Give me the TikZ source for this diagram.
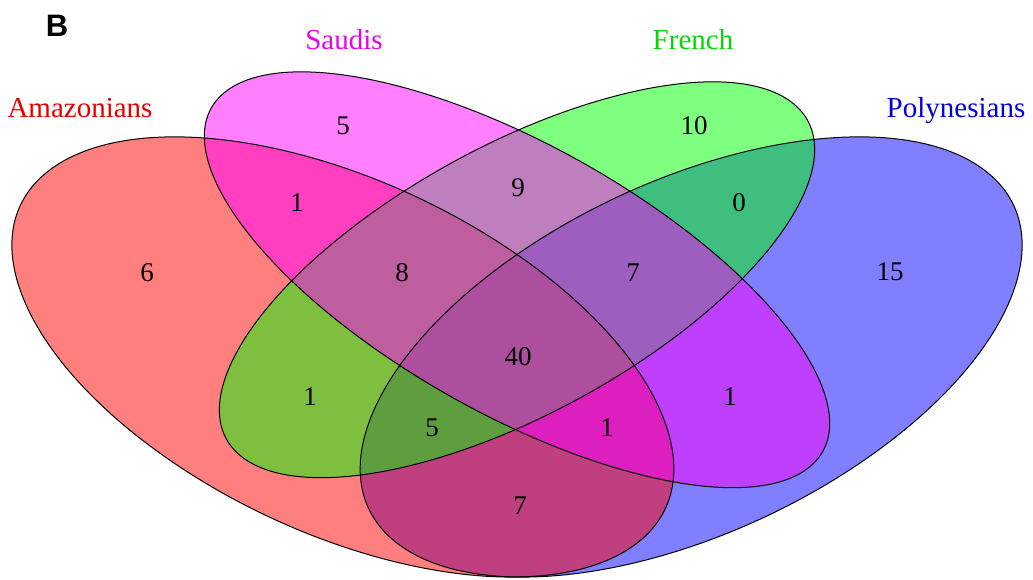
\documentclass[tikz,border=0pt]{standalone}
\usepackage{fontspec}
\setmainfont{Liberation Serif}
\newfontfamily\panelfont{Liberation Sans}
\usepackage{tikz}

\definecolor{amazcol}{RGB}{255,0,0}
\definecolor{saudcol}{RGB}{255,0,255}
\definecolor{frencol}{RGB}{0,255,0}
\definecolor{polycol}{RGB}{0,0,255}

\begin{document}
\begin{tikzpicture}[x=1pt,y=1pt]
    \tikzstyle{every node}=[inner sep=0pt,font=\fontsize{27}{27}\selectfont];
    \tikzstyle{setfill}=[fill opacity=0.5];
    \tikzstyle{setline}=[draw=black,line width=1pt];
    \tikzstyle{setname}=[anchor=base,font=\fontsize{29}{29}\selectfont];

    \useasboundingbox (0,0) rectangle (1033,579);

    % the four sets, filled first, outlined after
    \begin{scope}[shift={(-63.5,-140.8)},xscale=11.61,yscale=7.72]
        \fill[setfill,polycol] [rotate around={45:(65,47)}] (65,47) ellipse (35 and 20);
        \fill[setfill,amazcol] [rotate around={135:(35,47)}] (35,47) ellipse (35 and 20);
        \fill[setfill,frencol] [rotate around={45:(50,57)}] (50,57) ellipse (33 and 15);
        \fill[setfill,saudcol] [rotate around={135:(50,57)}] (50,57) ellipse (35 and 15);

        \draw[setline] [rotate around={45:(65,47)}] (65,47) ellipse (35 and 20);
        \draw[setline] [rotate around={135:(35,47)}] (35,47) ellipse (35 and 20);
        \draw[setline] [rotate around={45:(50,57)}] (50,57) ellipse (33 and 15);
        \draw[setline] [rotate around={135:(50,57)}] (50,57) ellipse (35 and 15);
    \end{scope}

    \node[anchor=base,font=\panelfont\bfseries\fontsize{31}{31}\selectfont] (panel) at (57,542) {B};

    \node[setname,text=amazcol!90!black] (lamaz) at (80,461) {Amazonians};
    \node[setname,text=saudcol!92!black] (lsaud) at (344,529) {Saudis};
    \node[setname,text=frencol!85!black] (lfren) at (693,529) {French};
    \node[setname,text=polycol!85!black] (lpoly) at (956,461) {Polynesians};

    \node (nA) at (147,306) {6};
    \node (nS) at (343,453) {5};
    \node (nF) at (694,453) {10};
    \node (nP) at (890,307) {15};
    \node (nAS) at (297,376) {1};
    \node (nFP) at (739,376) {0};
    \node (nSF) at (518,391) {9};
    \node (nASF) at (402,306) {8};
    \node (nSFP) at (633,306) {7};
    \node (nASFP) at (518,222) {40};
    \node (nAF) at (310,182) {1};
    \node (nSP) at (730,182) {1};
    \node (nAFP) at (432,151) {5};
    \node (nASP) at (607,151) {1};
    \node (nAP) at (520,73) {7};

\end{tikzpicture}
\end{document}
